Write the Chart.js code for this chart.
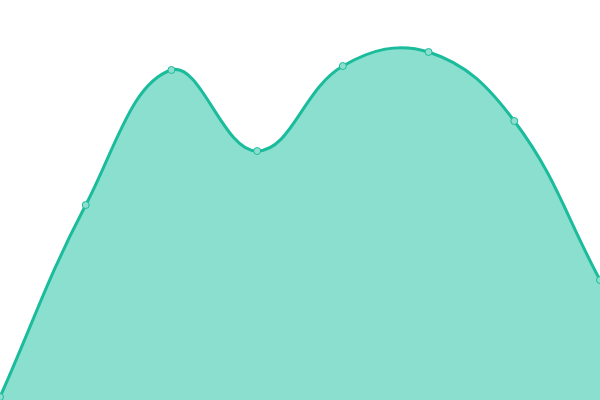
<!DOCTYPE html>
<html>
<head>
<meta charset="utf-8">
<style>
html,body{margin:0;padding:0;background:#fff;}
#wrap{width:600px;height:400px;}
</style>
<script src="https://cdn.jsdelivr.net/npm/chart.js@4/dist/chart.umd.min.js"></script>
</head>
<body>
<div id="wrap"><canvas id="c" width="600" height="400"></canvas></div>
<script>
const categories = ["1", "2", "3", "4", "5", "6", "7", "8"];
const values = [0.75, 48.75, 82.5, 62.25, 83.5, 87, 69.75, 30];

new Chart(document.getElementById('c'), {
  type: 'line',
  data: {
    labels: categories,
    datasets: [{
      data: values,
      fill: 'start',
      backgroundColor: 'rgba(22,192,158,0.5)',
      borderColor: '#1abc9c',
      borderWidth: 3,
      tension: 0.4,
      pointRadius: 3.5,
      pointBackgroundColor: 'rgba(141,222,206,1)',
      pointBorderColor: '#1abc9c',
      pointBorderWidth: 1
    }]
  },
  options: {
    responsive: false,
    animation: false,
    layout: { padding: 0, autoPadding: false },
    plugins: { legend: { display: false }, tooltip: { enabled: false } },
    scales: {
      x: { display: false, offset: false },
      y: { display: false, min: 0, max: 100 }
    }
  }
});
</script>
</body>
</html>
